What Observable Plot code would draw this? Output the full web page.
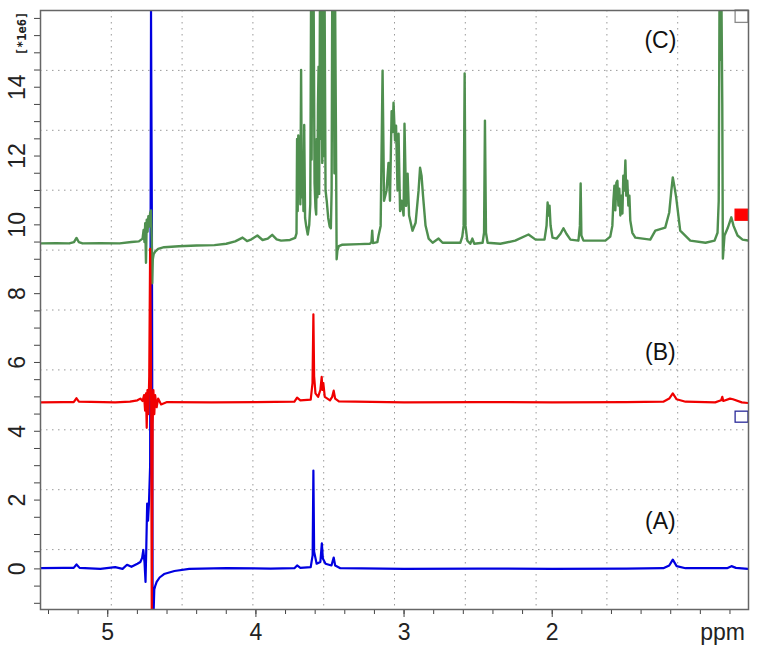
<!DOCTYPE html>
<html>
<head>
<meta charset="utf-8">
<script src="https://cdn.jsdelivr.net/npm/d3@7"></script>
<script src="https://cdn.jsdelivr.net/npm/@observablehq/plot@0.6"></script>
<style>
  html, body { margin: 0; padding: 0; background: #fff; }
  #chart svg { display: block; }
</style>
</head>
<body>
<div id="chart"></div>
<script>
// ---- data: [ppm, intensity (×1e6)] ----
const seriesA = [
  [5.454, 0.02],[5.30, 0.03],[5.23, 0.03],[5.211, 0.13],[5.19, 0.03],[5.05, 0.0],[4.95, 0.05],[4.90, 0.0],
  [4.87, 0.12],[4.84, 0.06],[4.80, 0.15],[4.78, 0.2],[4.768, 0.32],[4.76, 0.55],[4.752, 0.2],[4.745, -0.38],
  [4.740, 0.6],[4.734, 1.9],[4.728, 1.4],[4.722, 1.9],[4.714, 3.0],[4.708, 20],[4.702, 10],[4.697, -2],
  [4.690, -1.2],[4.686, -0.6],[4.68, -0.5],[4.67, -0.38],[4.65, -0.25],[4.62, -0.15],[4.55, -0.06],[4.45, 0.0],
  [4.2, 0.02],[3.9, 0.01],[3.74, 0.02],[3.722, 0.1],[3.70, 0.03],[3.63, 0.05],[3.617, 0.4],[3.612, 2.86],
  [3.607, 0.5],[3.59, 0.15],[3.565, 0.2],[3.555, 0.74],[3.548, 0.3],[3.53, 0.15],[3.49, 0.1],[3.475, 0.33],
  [3.465, 0.1],[3.43, 0.02],[3.0, 0.0],[2.5, 0.01],[2.0, 0.0],[1.5, 0.01],[1.25, 0.02],[1.21, 0.1],
  [1.186, 0.27],[1.16, 0.08],[1.1, 0.02],[0.82, 0.02],[0.79, 0.08],[0.76, 0.03],[0.675, 0.0]
];
const seriesB = [
  [5.454, 4.84],[5.30, 4.85],[5.23, 4.85],[5.211, 4.96],[5.195, 4.86],[4.95, 4.84],[4.85, 4.86],[4.80, 4.9],
  [4.78, 4.95],[4.765, 4.88],[4.755, 5.05],[4.748, 4.6],[4.742, 5.1],[4.737, 4.1],[4.732, 5.2],[4.726, 4.5],
  [4.720, 5.6],[4.714, 9.3],[4.708, 6.0],[4.703, -1.5],[4.697, 4.2],[4.692, 5.2],[4.686, 4.5],[4.68, 5.05],
  [4.67, 4.7],[4.66, 4.95],[4.64, 4.78],[4.60, 4.85],[4.3, 4.84],[4.0, 4.85],[3.74, 4.86],[3.722, 4.98],
  [3.70, 4.9],[3.63, 4.92],[3.618, 5.4],[3.612, 7.4],[3.607, 5.6],[3.598, 5.1],[3.58, 5.0],[3.565, 5.2],
  [3.556, 5.58],[3.551, 5.2],[3.545, 5.4],[3.535, 5.0],[3.50, 4.9],[3.485, 5.0],[3.475, 5.18],[3.465, 4.95],
  [3.44, 4.87],[3.0, 4.84],[2.5, 4.85],[2.0, 4.84],[1.5, 4.85],[1.25, 4.86],[1.21, 4.95],[1.186, 5.1],
  [1.16, 4.93],[1.10, 4.86],[0.90, 4.84],[0.86, 4.9],[0.852, 5.0],[0.845, 4.88],[0.80, 4.95],[0.78, 4.93],
  [0.72, 4.84],[0.675, 4.82]
];
const seriesC = [
  [5.454, 9.46],[5.35, 9.47],[5.26, 9.46],[5.228, 9.5],[5.211, 9.62],[5.196, 9.5],[5.17, 9.46],[5.05, 9.47],
  [4.92, 9.46],[4.84, 9.5],[4.79, 9.52],[4.765, 9.6],[4.758, 9.85],[4.752, 9.5],[4.747, 10.05],[4.742, 8.9],
  [4.737, 10.15],[4.731, 9.8],[4.726, 10.25],[4.72, 9.95],[4.714, 10.35],[4.708, 10.42],[4.703, 9.6],[4.700, 8.3],
  [4.696, 9.0],[4.69, 9.15],[4.68, 9.22],[4.66, 9.3],[4.62, 9.35],[4.52, 9.38],[4.40, 9.4],[4.28, 9.41],
  [4.2, 9.45],[4.14, 9.52],[4.09, 9.63],[4.06, 9.53],[4.03, 9.58],[3.99, 9.69],[3.955, 9.56],[3.92, 9.6],
  [3.89, 9.71],[3.86, 9.58],[3.83, 9.54],[3.77, 9.56],[3.735, 9.62],[3.726, 9.75],
  [3.722, 12.5],[3.718, 10.4],[3.714, 12.6],[3.709, 11.0],[3.705, 12.2],[3.700, 10.6],[3.695, 14.5],[3.690, 10.8],
  [3.684, 11.8],[3.679, 10.4],[3.674, 12.9],[3.668, 10.2],[3.660, 9.95],[3.650, 9.72],[3.640, 10.0],[3.633, 10.6],
  [3.628, 17],[3.624, 11.9],[3.620, 17],[3.615, 14.9],[3.610, 17],[3.604, 11.2],[3.598, 10.5],[3.593, 10.3],
  [3.589, 12.5],[3.585, 10.8],[3.581, 13.5],[3.577, 14.6],[3.573, 10.9],[3.568, 17],[3.563, 12.5],[3.558, 17],
  [3.552, 11.8],[3.547, 17],[3.541, 12.0],[3.536, 17],[3.530, 11.0],[3.522, 10.7],[3.512, 10.2],[3.502, 9.95],
  [3.494, 9.9],[3.489, 11.0],[3.485, 17],[3.480, 13],[3.475, 17],[3.470, 11.5],[3.465, 17],[3.460, 12.9],
  [3.455, 9.0],[3.450, 9.25],[3.44, 9.38],[3.42, 9.42],[3.30, 9.44],[3.23, 9.45],[3.22, 9.5],[3.215, 9.83],
  [3.21, 9.47],[3.18, 9.5],
  [3.172, 9.69],[3.158, 9.97],[3.145, 14.48],[3.135, 10.7],[3.118, 11.0],[3.105, 11.8],[3.095, 10.7],[3.084, 13.3],
  [3.077, 12.7],[3.071, 13.55],[3.061, 12.45],[3.054, 12.88],[3.044, 11.0],[3.037, 12.65],[3.027, 10.4],[3.017, 10.7],
  [3.003, 10.27],[2.997, 12.94],[2.986, 10.55],[2.976, 11.49],[2.966, 10.27],[2.943, 9.83],[2.922, 10.06],[2.902, 11.0],
  [2.892, 11.66],[2.882, 11.43],[2.872, 10.85],[2.855, 9.98],[2.834, 9.6],[2.807, 9.48],[2.767, 9.6],[2.74, 9.48],
  [2.62, 9.48],[2.607, 9.66],[2.598, 9.97],[2.591, 14.4],[2.585, 9.97],[2.573, 9.54],[2.553, 9.45],[2.539, 9.6],
  [2.526, 9.45],[2.47, 9.48],[2.46, 9.77],[2.454, 13.03],[2.447, 9.77],[2.436, 9.48],[2.35, 9.45],[2.25, 9.54],
  [2.16, 9.72],[2.112, 9.57],[2.052, 9.57],[2.038, 9.98],[2.031, 10.65],[2.024, 10.27],[2.018, 10.56],[2.011, 9.98],
  [1.998, 9.63],[1.971, 9.6],[1.944, 9.74],[1.924, 9.9],[1.904, 9.74],[1.877, 9.57],[1.823, 9.54],[1.813, 9.97],
  [1.808, 11.2],[1.803, 9.69],[1.789, 9.54],[1.641, 9.54],[1.608, 9.66],[1.594, 9.97],[1.587, 10.7],[1.58, 11.14],
  [1.574, 10.42],[1.567, 11.22],[1.56, 11.28],[1.553, 10.56],[1.547, 11.05],[1.54, 10.27],[1.533, 10.85],[1.526, 10.33],
  [1.52, 11.43],[1.513, 11.0],[1.506, 11.87],[1.5, 10.85],[1.493, 11.28],[1.486, 10.56],[1.479, 10.85],[1.473, 10.13],
  [1.459, 9.77],[1.439, 9.63],[1.338, 9.57],[1.304, 9.83],[1.237, 9.92],[1.21, 10.36],[1.196, 10.99],[1.186, 11.38],
  [1.176, 11.14],[1.163, 10.79],[1.136, 9.83],[1.068, 9.54],[0.965, 9.48],[0.904, 9.54],[0.884, 9.77],[0.876, 10.7],
  [0.871, 17],[0.866, 14.8],[0.862, 17],[0.857, 17],[0.852, 13.5],[0.848, 9.02],[0.837, 9.69],[0.816, 9.9],
  [0.791, 10.22],[0.776, 9.97],[0.749, 9.69],[0.715, 9.57],[0.675, 9.54]
];

const xDomain = [5.454, 0.675];
const yDomain = [-1.18, 16.23];
const xMajorTicks = [5, 4, 3, 2];
const xMinorTicks = [5.4, 5.2, 5.0, 4.8, 4.6, 4.4, 4.2, 4.0, 3.8, 3.6, 3.4, 3.2, 3.0, 2.8, 2.6, 2.4, 2.2, 2.0, 1.8, 1.6, 1.4, 1.2, 1.0, 0.8];
const yLabelTicks = [0, 2, 4, 6, 8, 10, 12, 14];
const yMinorTicks = d3.range(-1, 16.01, 0.5);
const seriesLabels = [
  {text: "(C)", ppm: 1.27, v: 15.35},
  {text: "(B)", ppm: 1.27, v: 6.29},
  {text: "(A)", ppm: 1.27, v: 1.38}
];
const markers = [
  {x1: 0.762, x2: 0.675, y1: 15.87, y2: 16.23, fill: "white", stroke: "#8a8a8a"},
  {x1: 0.762, x2: 0.675, y1: 10.12, y2: 10.44, fill: "#ff0000", stroke: "#ff0000"},
  {x1: 0.762, x2: 0.675, y1: 4.25, y2: 4.57, fill: "white", stroke: "#2a2a9a"}
];

const xGrid = d3.range(1, 10).map(i => xDomain[0] + (xDomain[1] - xDomain[0]) * i / 10);
const yGrid = d3.range(1, 10).map(i => yDomain[0] + (yDomain[1] - yDomain[0]) * i / 10);

const font = "'Liberation Sans Narrow', 'Liberation Sans', Arial, sans-serif";

const chart = Plot.plot({
  width: 762,
  height: 653,
  marginLeft: 40,
  marginRight: 14,
  marginTop: 10,
  marginBottom: 44,
  x: {domain: xDomain, axis: null},
  y: {domain: yDomain, axis: null, clamp: true},
  style: {fontFamily: font, background: "white", overflow: "visible"},
  marks: [
    Plot.gridX(xGrid, {stroke: "#9a9a9a", strokeOpacity: 1, strokeDasharray: "1.5,4.5"}),
    Plot.gridY(yGrid, {stroke: "#9a9a9a", strokeOpacity: 1, strokeDasharray: "1.5,4.5"}),
    Plot.line(seriesA, {x: d => d[0], y: d => d[1], stroke: "#0000e0", strokeWidth: 2.2, clip: true}),
    Plot.line(seriesC, {x: d => d[0], y: d => d[1], stroke: "#4f8f4f", strokeWidth: 2.4, clip: true}),
    Plot.line(seriesB, {x: d => d[0], y: d => d[1], stroke: "#f00000", strokeWidth: 2.2, clip: true}),
    Plot.rect(markers, {x1: "x1", x2: "x2", y1: "y1", y2: "y2", fill: d => d.fill, stroke: d => d.stroke, strokeWidth: 1.3}),
    Plot.text(seriesLabels, {x: "ppm", y: "v", text: "text", fontSize: 23, fill: "#111", fontFamily: "'Liberation Sans', Arial, sans-serif"}),
    Plot.axisX(xMinorTicks, {anchor: "bottom", tickSize: 5, tickFormat: () => "", stroke: "#444", label: null}),
    Plot.axisX(xMajorTicks, {anchor: "bottom", tickSize: 8, tickPadding: 6, fontSize: 23, fill: "#222", stroke: "#444", tickFormat: d => String(d), label: null}),
    Plot.axisY(yMinorTicks, {anchor: "left", tickSize: 6, tickFormat: () => "", stroke: "#444", label: null}),
    Plot.text(yLabelTicks, {y: d => d, text: d => String(d), frameAnchor: "left", dx: -23, rotate: -90, fontSize: 23, fill: "#222", textAnchor: "middle", lineAnchor: "middle"}),
    Plot.text(["[*1e6]"], {frameAnchor: "top-left", dx: -18, dy: 23, rotate: -90, fontSize: 12, fontWeight: "bold", fontFamily: "'DejaVu Sans Mono', monospace", fill: "#222", textAnchor: "middle", lineAnchor: "middle"}),
    Plot.text(["ppm"], {frameAnchor: "bottom-right", dx: -26, dy: 23, fontSize: 23, fill: "#222", textAnchor: "middle", lineAnchor: "middle"}),
    Plot.frame({stroke: "#666", strokeWidth: 1.5})
  ]
});
document.getElementById("chart").appendChild(chart);
</script>
</body>
</html>
